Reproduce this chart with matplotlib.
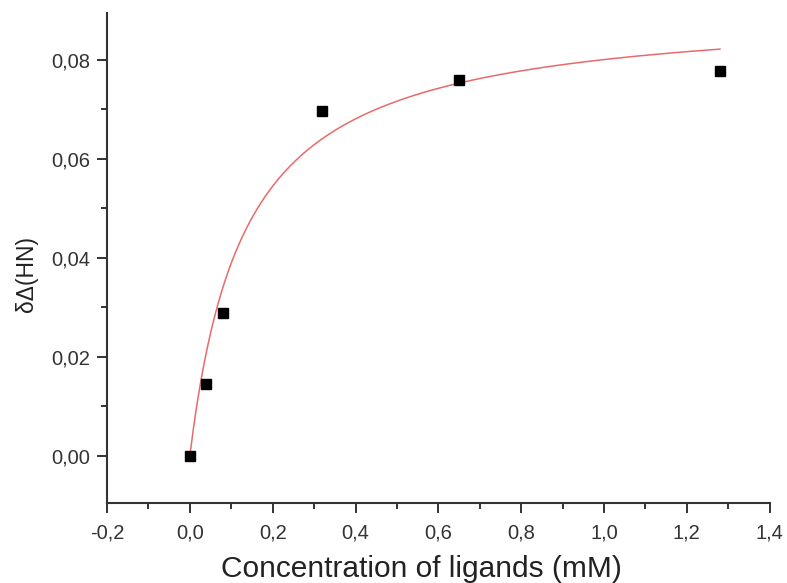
import numpy as np
import matplotlib
matplotlib.use("Agg")
import matplotlib.pyplot as plt
from matplotlib.ticker import MultipleLocator, FuncFormatter

# Data
conc = [0.0, 0.04, 0.08, 0.32, 0.65, 1.28]
shift = [0.0, 0.0144, 0.0288, 0.0696, 0.0760, 0.0778]
# Hyperbolic fit parameters
fit_bmax = 0.0907
fit_kd = 0.133
x_label = "Concentration of ligands (mM)"
y_label = "δΔ(HN)"

plt.rcParams['font.family'] = ['Liberation Sans', 'DejaVu Sans']

fig = plt.figure(figsize=(7.87, 5.83), dpi=100)
ax = fig.add_axes([0.136, 0.137, 0.842, 0.841])

xf = np.linspace(conc[0], conc[-1], 300)
ax.plot(xf, fit_bmax * xf / (fit_kd + xf), color='#e86a6a', lw=1.1, zorder=2)
ax.plot(conc, shift, 's', color='black', ms=7.5, zorder=3)

ax.set_xlim(-0.2, 1.4)
ax.set_ylim(-0.0096, 0.0895)

for s in ['top', 'right']:
    ax.spines[s].set_visible(False)
for s in ['left', 'bottom']:
    ax.spines[s].set_linewidth(1.5)
    ax.spines[s].set_color('#333333')

ax.xaxis.set_major_locator(MultipleLocator(0.2))
ax.xaxis.set_minor_locator(MultipleLocator(0.1))
ax.yaxis.set_major_locator(MultipleLocator(0.02))
ax.yaxis.set_minor_locator(MultipleLocator(0.01))
ax.xaxis.set_major_formatter(FuncFormatter(lambda v, p: f"{v:.1f}".replace('.', ',').replace('-0,0', '0,0')))
ax.yaxis.set_major_formatter(FuncFormatter(lambda v, p: f"{v:.2f}".replace('.', ',').replace('-0,00', '0,00')))

ax.tick_params(which='major', direction='out', length=7, width=1.4, color='#333333',
               labelsize=14.5, labelcolor='#333333', pad=5)
ax.tick_params(axis='x', which='major', pad=8)
ax.tick_params(which='minor', direction='out', length=4, width=1.4, color='#333333')

ax.set_xlabel(x_label, fontsize=21.5, color='#222222')
ax.xaxis.set_label_coords(0.474, -0.105)
ax.set_ylabel(y_label, fontsize=16.5, color='#222222')
ax.yaxis.set_label_coords(-0.104, 0.467)

fig.savefig('out.png', dpi=100)
